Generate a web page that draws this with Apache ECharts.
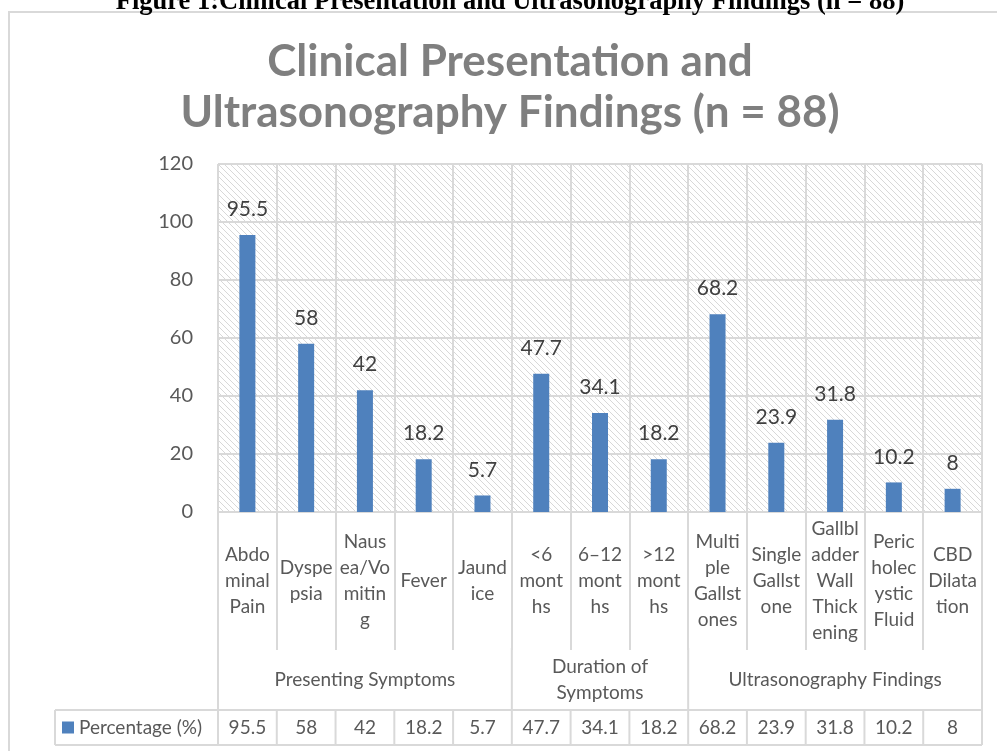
<!DOCTYPE html>
<html>
<head>
<meta charset="utf-8">
<script src="https://cdn.jsdelivr.net/npm/echarts@6/dist/echarts.min.js"></script>
<style>html,body{margin:0;padding:0;background:#fff;}#main{width:997px;height:751px;}</style>
</head>
<body>
<div id="main"></div>
<script>
// ---- data ----
const categoryLabels = ['Abdo\nminal\nPain','Dyspe\npsia','Naus\nea/Vo\nmitin\ng','Fever','Jaund\nice','<6\nmont\nhs','6–12\nmont\nhs','>12\nmont\nhs','Multi\nple\nGallst\nones','Single\nGallst\none','Gallbl\nadder\nWall\nThick\nening','Peric\nholec\nystic\nFluid','CBD\nDilata\ntion'];
const percentages = [95.5, 58, 42, 18.2, 5.7, 47.7, 34.1, 18.2, 68.2, 23.9, 31.8, 10.2, 8];
const groupNames = ['Presenting Symptoms', 'Duration of\nSymptoms', 'Ultrasonography Findings'];
const groupSizes = [5, 3, 5];
const seriesName = 'Percentage (%)';
const yTicks = {min: 0, max: 120, interval: 20};
const mainTitle = 'Clinical Presentation and\nUltrasonography Findings (n = 88)';
const caption = 'Figure 1:Clinical Presentation and Ultrasonography Findings (n = 88)';

// hatch pattern
const pc = document.createElement('canvas');
pc.width = 6; pc.height = 6;
const pctx = pc.getContext('2d');
pctx.fillStyle = '#ffffff'; pctx.fillRect(0,0,6,6);
pctx.strokeStyle = '#d8d8d8'; pctx.lineWidth = 1;
pctx.beginPath();
pctx.moveTo(-1,-1); pctx.lineTo(7,7);
pctx.moveTo(-1,5); pctx.lineTo(1,7);
pctx.moveTo(5,-1); pctx.lineTo(7,1);
pctx.stroke();

const FONT = 'Lato, "Noto Sans", sans-serif';
const GRID = '#d9d9d9';
const chart = echarts.init(document.getElementById('main'), null, {renderer: 'canvas'});

chart.setOption({
  animation: false,
  backgroundColor: '#ffffff',
  grid: {left: 218, right: 15, top: 164, bottom: 239, show: true, borderWidth: 0,
    backgroundColor: {image: pc, repeat: 'repeat'}},
  xAxis: {
    type: 'category', data: categoryLabels, boundaryGap: true,
    axisLine: {show: true, lineStyle: {color: GRID, width: 2}},
    axisTick: {show: true, interval: 0, length: 138, lineStyle: {color: GRID, width: 2}},
    splitLine: {show: true, interval: 0, lineStyle: {color: GRID, width: 2}},
    axisLabel: {interval: 0, margin: 69, verticalAlign: 'middle', fontFamily: FONT, fontSize: 19, lineHeight: 26, color: '#595959'}
  },
  yAxis: {
    type: 'value', min: yTicks.min, max: yTicks.max, interval: yTicks.interval,
    axisLine: {show: false}, axisTick: {show: false},
    splitLine: {lineStyle: {color: GRID, width: 2}},
    axisLabel: {margin: 25, fontFamily: FONT, fontSize: 20, color: '#595959'}
  },
  series: [{
    name: seriesName, type: 'bar', data: percentages, barWidth: 16,
    itemStyle: {color: '#4F81BD'},
    label: {show: true, position: 'top', distance: 15, fontFamily: FONT, fontSize: 21, color: '#404040'}
  }]
});

function buildGraphics() {
  const c0 = chart.convertToPixel({xAxisIndex: 0}, 0);
  const c1 = chart.convertToPixel({xAxisIndex: 0}, 1);
  const band = c1 - c0;
  const left = c0 - band / 2;
  const bx = i => left + i * band;
  const y0 = chart.convertToPixel({yAxisIndex: 0}, 0);
  const sepEnd = y0 + 138;
  const tTop = y0 + 198, tBot = y0 + 233;
  const tMid = (tTop + tBot) / 2;
  const legendLeft = 55;
  const right = bx(categoryLabels.length);
  const els = [];
  const line = (x1, y1, x2, y2) => els.push({type: 'line', silent: true, z: 10,
    shape: {x1, y1, x2, y2}, style: {stroke: GRID, lineWidth: 2}});
  // outer frame
  els.push({type: 'rect', silent: true, z: 1, shape: {x: 9, y: 12, width: 1000, height: 800},
    style: {fill: null, stroke: GRID, lineWidth: 2}});
  // caption
  els.push({type: 'text', silent: true, z: 10, style: {text: caption, x: 510, y: 16,
    align: 'center', verticalAlign: 'bottom', font: 'bold 26.5px "Liberation Serif", "DejaVu Serif", serif', fill: '#000'}});
  // main title
  els.push({type: 'text', silent: true, z: 10, style: {text: mainTitle, x: 510, y: 36,
    align: 'center', verticalAlign: 'top', font: 'bold 44px ' + FONT, fill: '#7f7f7f', lineHeight: 51}});
  // group separators
  let idx = 0;
  const bounds = [0];
  groupSizes.forEach(s => { idx += s; bounds.push(idx); });
  bounds.forEach(b => line(bx(b), sepEnd - 2, bx(b), tTop));
  // group labels
  groupNames.forEach((g, gi) => {
    const cx = (bx(bounds[gi]) + bx(bounds[gi + 1])) / 2;
    els.push({type: 'text', silent: true, z: 10, style: {text: g, x: cx, y: (sepEnd + tTop) / 2,
      align: 'center', verticalAlign: 'middle', font: '19px ' + FONT, fill: '#595959', lineHeight: 26}});
  });
  // table
  line(legendLeft, tTop, right, tTop);
  line(legendLeft, tBot, right, tBot);
  line(legendLeft, tTop, legendLeft, tBot);
  for (let i = 0; i <= categoryLabels.length; i++) line(bx(i), tTop, bx(i), tBot);
  percentages.forEach((v, i) => {
    els.push({type: 'text', silent: true, z: 10, style: {text: String(v), x: bx(i) + band / 2, y: tMid,
      align: 'center', verticalAlign: 'middle', font: '19px ' + FONT, fill: '#595959'}});
  });
  els.push({type: 'rect', silent: true, z: 10, shape: {x: 62, y: tMid - 6, width: 12, height: 12}, style: {fill: '#4F81BD'}});
  els.push({type: 'text', silent: true, z: 10, style: {text: seriesName, x: 79, y: tMid,
    align: 'left', verticalAlign: 'middle', font: '19px ' + FONT, fill: '#595959'}});
  chart.setOption({graphic: els});
}
buildGraphics();
</script>
</body>
</html>
